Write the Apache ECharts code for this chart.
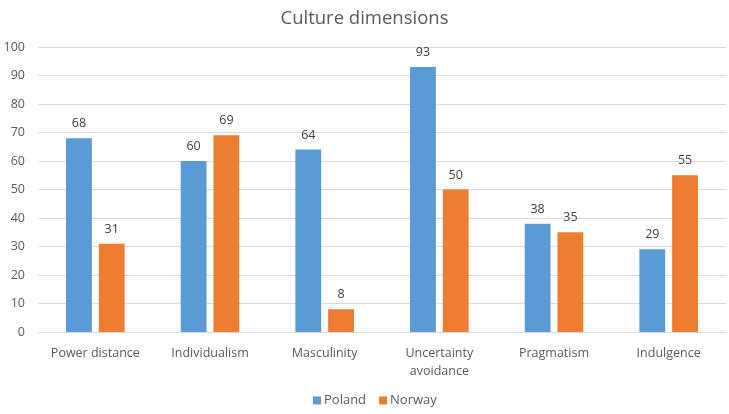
<!DOCTYPE html>
<html><head><meta charset="utf-8">
<script src="https://cdn.jsdelivr.net/npm/echarts@6/dist/echarts.min.js"></script>
<style>html,body{margin:0;padding:0;background:#fff}#c{width:729px;height:414px}</style>
</head><body><div id="c"></div>
<script>
const categories = ['Power distance','Individualism','Masculinity','Uncertainty\navoidance','Pragmatism','Indulgence'];
const poland = [68, 60, 64, 93, 38, 29];
const norway = [31, 69, 8, 50, 35, 55];
const yTicks = {min: 0, max: 100, interval: 10};
const font = '"Open Sans", "Liberation Sans", sans-serif';
const chart = echarts.init(document.getElementById('c'), null, {renderer: 'canvas'});
const lbl = {show: true, position: 'top', distance: 8, color: '#404040', fontSize: 12.5, fontFamily: font};
chart.setOption({
  animation: false,
  textStyle: {fontFamily: font},
  title: {text: 'Culture dimensions', left: 'center', top: 4,
    textStyle: {fontSize: 18.5, fontWeight: 'normal', color: '#595959', fontFamily: font}},
  grid: {left: 38, right: 3, top: 47, bottom: 82},
  legend: {bottom: 2, left: 308, itemWidth: 8, itemHeight: 8, itemGap: 13,
    icon: 'rect', textStyle: {fontSize: 13, color: '#595959', fontFamily: font, padding: [0, 0, 0, -2]},
    data: ['Poland', 'Norway']},
  xAxis: {type: 'category', data: categories,
    axisLine: {lineStyle: {color: '#D9D9D9'}}, axisTick: {show: false},
    axisLabel: {interval: 0, hideOverlap: false, color: '#595959', fontSize: 12.5, margin: 12, lineHeight: 18, fontFamily: font}},
  yAxis: {type: 'value', min: yTicks.min, max: yTicks.max, interval: yTicks.interval,
    axisLine: {show: false}, axisTick: {show: false},
    axisLabel: {color: '#595959', fontSize: 12.5, margin: 13, fontFamily: font},
    splitLine: {lineStyle: {color: '#D9D9D9'}}},
  series: [
    {name: 'Poland', type: 'bar', data: poland, barWidth: '22.5%', barGap: '27%',
      itemStyle: {color: '#5B9BD5'}, label: lbl},
    {name: 'Norway', type: 'bar', data: norway, barWidth: '22.5%',
      itemStyle: {color: '#ED7D31'}, label: lbl}
  ]
});
</script></body></html>
